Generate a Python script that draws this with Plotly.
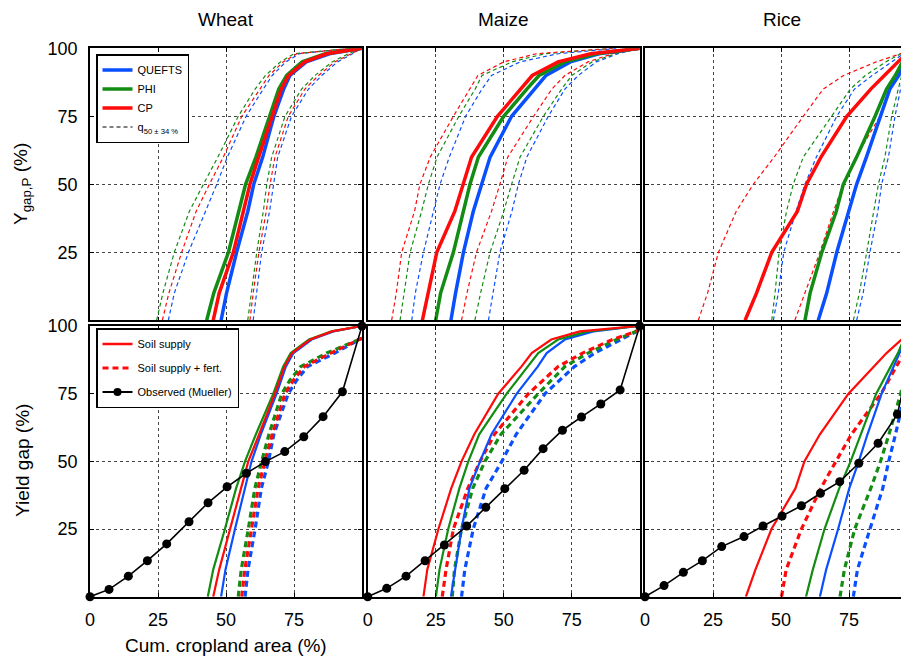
import plotly.graph_objects as go

CROPS = ["Wheat", "Maize", "Rice"]
MODELS = ["QUEFTS", "PHI", "CP"]
COLORS = {"QUEFTS": "#0a4fff", "PHI": "#138c13", "CP": "#ff0a0a"}

# ---------------- top row: Y_gap,P (%) levels and cumulative area (%) ----------
TOP_Y = [0, 10, 25, 40, 50, 60, 75, 85, 90, 95, 98, 100]

WHEAT_MED = {"QUEFTS": [48.2, 50.2, 53.9, 58.0, 60.2, 63.5, 67.6, 71.2, 73.5, 79.5, 88.0, 100],
             "PHI":    [42.9, 45.5, 50.9, 54.5, 57.2, 61.0, 66.0, 69.4, 72.3, 78.0, 86.5, 100],
             "CP":     [45.3, 47.5, 52.7, 56.5, 58.8, 62.0, 66.8, 70.3, 73.0, 79.0, 87.0, 100]}
WHEAT_LO = {"QUEFTS": [28.8, 31.0, 36.2, 42.5, 46.6, 50.5, 57.4, 63.7, 67.0, 72.0, 77.0, 96],
            "PHI":    [24.5, 26.8, 31.0, 36.5, 41.7, 47.0, 54.5, 60.7, 64.5, 70.0, 75.0, 96],
            "CP":     [26.6, 29.0, 33.7, 39.0, 43.9, 49.0, 55.8, 62.3, 65.8, 71.0, 76.0, 96]}
WHEAT_HI = {"QUEFTS": [60.0, 61.2, 63.1, 66.0, 67.4, 69.0, 74.1, 80.3, 85.2, 91.0, 96.5, 100],
            "PHI":    [58.0, 59.3, 61.3, 63.7, 65.0, 66.8, 71.7, 77.8, 82.7, 89.0, 95.0, 100],
            "CP":     [58.8, 60.0, 62.1, 64.8, 66.2, 68.0, 72.9, 79.0, 84.0, 90.0, 96.0, 100]}

MAIZE_MED = {"QUEFTS": [30.6, 32.3, 35.2, 38.8, 41.9, 45.0, 52.9, 61.5, 65.5, 74.5, 85.0, 100],
             "PHI":    [25.0, 26.8, 31.5, 35.0, 37.6, 40.7, 50.0, 58.5, 63.0, 72.5, 84.0, 100],
             "CP":     [20.1, 22.2, 25.4, 32.0, 35.2, 38.2, 47.7, 56.0, 60.5, 70.0, 82.0, 100]}
MAIZE_LO = {"QUEFTS": [16.2, 17.5, 20.5, 24.0, 26.6, 30.0, 36.0, 42.0, 45.5, 56.0, 70.0, 92],
            "PHI":    [11.9, 13.3, 15.6, 19.8, 22.3, 25.5, 33.5, 39.5, 42.0, 53.0, 65.0, 90],
            "CP":     [8.8, 10.5, 12.5, 17.2, 19.2, 23.0, 31.5, 37.5, 40.5, 50.0, 62.0, 90]}
MAIZE_HI = {"QUEFTS": [44.4, 46.0, 48.6, 53.0, 55.4, 58.5, 66.4, 72.5, 77.4, 84.0, 92.0, 100],
            "PHI":    [39.4, 41.5, 45.0, 50.0, 52.9, 56.0, 64.6, 71.3, 75.0, 82.5, 91.0, 100],
            "CP":     [34.5, 36.5, 40.0, 45.5, 48.6, 51.5, 61.0, 67.7, 72.5, 81.0, 90.0, 100]}

RICE_MED = {"QUEFTS": [63.7, 66.8, 70.5, 74.7, 77.8, 81.4, 86.4, 90.0, 93.3, 95.5, 96.6, 100],
            "PHI":    [58.8, 60.7, 65.0, 70.3, 72.9, 77.8, 84.6, 88.8, 92.0, 94.8, 96.3, 100],
            "CP":     [36.8, 41.0, 46.6, 56.0, 59.4, 64.7, 74.2, 83.0, 88.0, 93.0, 96.0, 100]}
RICE_LO = {"QUEFTS": [47.2, 49.0, 51.0, 55.5, 58.8, 63.0, 70.5, 77.0, 83.5, 90.5, 95.0, 100],
           "PHI":    [46.6, 47.8, 49.3, 52.0, 54.5, 58.2, 68.6, 75.5, 81.0, 88.5, 94.0, 100],
           "CP":     [19.6, 23.0, 27.0, 33.5, 39.8, 47.5, 58.2, 65.5, 73.0, 85.0, 94.0, 100]}
RICE_HI = {"QUEFTS": [77.8, 80.2, 82.7, 85.6, 87.0, 89.5, 91.9, 93.8, 95.0, 96.4, 97.3, 100],
           "PHI":    [76.6, 78.8, 81.5, 84.0, 85.8, 88.2, 90.7, 93.1, 94.4, 96.0, 97.0, 100],
           "CP":     [55.1, 58.8, 64.3, 69.3, 72.9, 77.5, 86.4, 90.0, 92.8, 95.5, 97.0, 100]}

# ---------------- bottom row: yield gap (%) ----------------
WHEAT_SOIL_Y = [0, 10, 25, 40, 50, 60, 75, 85, 90, 95, 98, 100]
WHEAT_SOIL = {"QUEFTS": [48.2, 49.8, 53.3, 56.8, 59.4, 62.8, 68.6, 72.0, 74.8, 81.5, 89.5, 100],
              "PHI":    [43.3, 45.3, 49.6, 53.7, 57.0, 61.0, 67.4, 71.0, 73.8, 80.5, 88.8, 100],
              "CP":     [45.3, 47.5, 51.5, 55.6, 58.2, 62.2, 68.0, 71.5, 74.3, 81.0, 89.0, 100]}
WHEAT_FERT_Y = [0, 10, 25, 40, 50, 60, 75, 80, 85, 90, 95.5]
WHEAT_FERT = {"QUEFTS": [57.0, 58.1, 60.7, 63.0, 65.6, 67.6, 72.9, 76.0, 80.0, 90.0, 100],
              "PHI":    [54.5, 55.6, 58.2, 60.6, 63.1, 65.8, 70.5, 73.5, 77.5, 87.0, 100],
              "CP":     [55.8, 56.9, 59.4, 61.8, 64.3, 67.0, 71.7, 74.8, 78.8, 88.5, 100]}

MAIZE_SOIL_Y = [0, 10, 25, 40, 50, 60, 75, 85, 90, 95, 98, 100]
MAIZE_SOIL = {"QUEFTS": [30.6, 32.1, 34.5, 37.4, 41.3, 45.5, 54.8, 62.5, 65.8, 72.5, 83.0, 99.5],
              "PHI":    [25.1, 26.4, 29.6, 33.7, 37.0, 41.0, 51.1, 59.0, 62.7, 70.0, 81.0, 99.5],
              "CP":     [20.5, 21.9, 26.0, 30.7, 34.5, 39.2, 48.0, 56.5, 60.3, 67.5, 78.0, 99.5]}
MAIZE_FERT_Y = [0, 10, 25, 40, 50, 60, 75, 85, 90, 95, 98.5]
MAIZE_FERT = {"QUEFTS": [34.5, 35.7, 38.8, 43.5, 49.3, 54.6, 65.2, 76.0, 83.5, 93.0, 99.9],
              "PHI":    [31.1, 31.9, 34.5, 38.6, 43.1, 49.0, 62.7, 72.5, 81.0, 91.5, 99.9],
              "CP":     [27.4, 28.8, 31.5, 36.8, 41.3, 46.6, 59.1, 70.0, 79.0, 90.0, 99.9]}

RICE_SOIL_Y = [0, 10, 25, 40, 50, 60, 75, 85, 90, 95, 100]
RICE_SOIL = {"QUEFTS": [64.3, 66.6, 71.0, 75.1, 78.6, 81.8, 87.0, 91.5, 93.8, 95.8, 99.2],
             "PHI":    [59.2, 61.7, 66.0, 71.4, 75.6, 79.3, 85.0, 90.3, 93.0, 95.1, 99.0],
             "CP":     [37.1, 40.6, 46.5, 55.3, 58.6, 64.3, 74.8, 84.2, 88.8, 94.3, 99.0]}
RICE_FERT_Y = [0, 10, 25, 40, 50, 60, 75, 85, 90, 100]
RICE_FERT = {"QUEFTS": [76.6, 78.1, 82.7, 87.4, 89.6, 92.1, 95.5, 97.0, 98.0, 100],
             "PHI":    [71.7, 73.3, 77.1, 83.0, 86.6, 89.7, 94.0, 96.2, 97.5, 100],
             "CP":     [50.2, 51.9, 57.5, 64.6, 70.2, 75.9, 86.8, 92.3, 95.2, 100]}

# observed (Mueller)
OBS_X = [0, 7.0, 14.1, 21.1, 28.2, 36.4, 43.4, 50.4, 57.5, 64.5, 71.6, 78.6, 85.7, 92.8, 100]
OBS_WHEAT = [0, 2.7, 7.6, 13.3, 19.5, 27.7, 34.7, 40.6, 45.6, 49.9, 53.6, 59.1, 66.5, 75.7, 100]
OBS_MAIZE = [0, 3.1, 7.6, 13.3, 19.1, 26.1, 33.0, 39.9, 46.7, 54.7, 61.5, 66.4, 71.2, 76.4, 100]
OBS_RICE = [0, 4.1, 9.0, 13.3, 18.5, 22.2, 26.1, 29.8, 33.6, 38.2, 42.5, 49.3, 56.7, 67.4, 100]

X_TICKS = [0, 25, 50, 75]
Y_TICKS = [25, 50, 75, 100]

FONT = "Liberation Sans, Arial, sans-serif"
# the page has an 8 px body margin, so the figure is sized to fit the 909x658 window
OFF = 8
FW, FH = 909 - OFF, 658 - OFF


def px(sx):
    return (sx - OFF) / FW


def py(sy):
    return 1 - (sy - OFF) / FH


TOP = [(WHEAT_MED, WHEAT_LO, WHEAT_HI), (MAIZE_MED, MAIZE_LO, MAIZE_HI), (RICE_MED, RICE_LO, RICE_HI)]
BOT = [(WHEAT_SOIL_Y, WHEAT_SOIL, WHEAT_FERT_Y, WHEAT_FERT, OBS_WHEAT),
       (MAIZE_SOIL_Y, MAIZE_SOIL, MAIZE_FERT_Y, MAIZE_FERT, OBS_MAIZE),
       (RICE_SOIL_Y, RICE_SOIL, RICE_FERT_Y, RICE_FERT, OBS_RICE)]

fig = go.Figure()

for c in range(3):
    xa, ya = ("x" if c == 0 else f"x{c+1}"), ("y" if c == 0 else f"y{c+1}")
    med, lo, hi = TOP[c]
    for m in MODELS:
        for band in (lo, hi):
            fig.add_trace(go.Scatter(x=band[m], y=TOP_Y, xaxis=xa, yaxis=ya, mode="lines",
                                     line=dict(color=COLORS[m], width=1.2, dash="4px,3px"),
                                     showlegend=False, hoverinfo="skip"))
    for m in MODELS:
        fig.add_trace(go.Scatter(x=med[m], y=TOP_Y, xaxis=xa, yaxis=ya, mode="lines",
                                 line=dict(color=COLORS[m], width=3.5),
                                 showlegend=False, hoverinfo="skip"))

for c in range(3):
    xa, ya = f"x{c+4}", f"y{c+4}"
    sy, soil, fy, fert, obs = BOT[c]
    for m in MODELS:
        fig.add_trace(go.Scatter(x=fert[m], y=fy, xaxis=xa, yaxis=ya, mode="lines",
                                 line=dict(color=COLORS[m], width=3.2, dash="6px,4px"),
                                 showlegend=False, hoverinfo="skip"))
    for m in MODELS:
        fig.add_trace(go.Scatter(x=soil[m], y=sy, xaxis=xa, yaxis=ya, mode="lines",
                                 line=dict(color=COLORS[m], width=2.2),
                                 showlegend=False, hoverinfo="skip"))
    fig.add_trace(go.Scatter(x=OBS_X, y=obs, xaxis=xa, yaxis=ya, mode="lines+markers",
                             line=dict(color="black", width=1.6),
                             marker=dict(color="black", size=9),
                             cliponaxis=False, showlegend=False, hoverinfo="skip"))

# legend entries
for m in MODELS:
    fig.add_trace(go.Scatter(x=[None], y=[None], mode="lines", name=m,
                             line=dict(color=COLORS[m], width=3.5), legend="legend"))
fig.add_trace(go.Scatter(x=[None], y=[None], mode="lines", name="q<sub>50 ± 34 %</sub>",
                         line=dict(color="black", width=1.2, dash="4px,3px"), legend="legend"))
fig.add_trace(go.Scatter(x=[None], y=[None], mode="lines", name="Soil supply", legendgroup="a",
                         line=dict(color=COLORS["CP"], width=2.5), legend="legend2"))
fig.add_trace(go.Scatter(x=[None], y=[None], mode="lines", name="Soil supply + fert.", legendgroup="b",
                         line=dict(color=COLORS["CP"], width=3, dash="6px,4px"), legend="legend2"))
fig.add_trace(go.Scatter(x=[None], y=[None], mode="lines+markers", name="Observed (Mueller)",
                         legendgroup="c", line=dict(color="black", width=2),
                         marker=dict(color="black", size=8), legend="legend2"))

XDOM = [[px(90), px(362)], [px(367.7), px(639.7)], [px(645), 1.0]]
XRNG = [[0, 100], [0, 100], [0, (909 - 645) / 2.72]]
YDOM_TOP = [py(320.3), py(48.3)]
YDOM_BOT = [py(596.7), py(326)]


def axis(domain, rng, vals, labels, anchor, standoff):
    return dict(domain=domain, range=rng, anchor=anchor, tickvals=vals, showticklabels=labels,
                automargin=False,
                showline=True, linecolor="black", linewidth=1.5, mirror="ticks",
                ticks="inside", ticklen=4, tickcolor="black", tickwidth=1,
                showgrid=True, gridcolor="#444", griddash="dot", gridwidth=1,
                zeroline=False, fixedrange=True, ticklabelstandoff=standoff,
                tickfont=dict(family=FONT, size=18, color="black"))


layout = dict(width=FW, height=FH, margin=dict(l=0, r=0, t=0, b=0, autoexpand=False),
              paper_bgcolor="white", plot_bgcolor="white",
              font=dict(family=FONT, color="black"))
for c in range(3):
    top_x = "xaxis" if c == 0 else f"xaxis{c+1}"
    top_y = "yaxis" if c == 0 else f"yaxis{c+1}"
    xa_top = "x" if c == 0 else f"x{c+1}"
    ya_top = "y" if c == 0 else f"y{c+1}"
    layout[top_x] = axis(XDOM[c], XRNG[c], X_TICKS, False, ya_top, 6)
    layout[top_y] = axis(YDOM_TOP, [0, 100], Y_TICKS, c == 0, xa_top, 7)
    layout[f"xaxis{c+4}"] = axis(XDOM[c], XRNG[c], X_TICKS, True, f"y{c+4}", 6)
    layout[f"yaxis{c+4}"] = axis(YDOM_BOT, [0, 100], Y_TICKS, c == 0, f"x{c+4}", 7)

layout["legend"] = dict(x=px(96), y=py(54), xanchor="left", yanchor="top",
                        bgcolor="white", bordercolor="black", borderwidth=1.5,
                        font=dict(family=FONT, size=11, color="black"), tracegroupgap=0)
layout["legend2"] = dict(x=px(96), y=py(328), xanchor="left", yanchor="top",
                         bgcolor="white", bordercolor="black", borderwidth=1.5,
                         font=dict(family=FONT, size=11, color="black"), tracegroupgap=5)

TITLE_FONT = dict(family=FONT, size=19, color="black")
ann = []
for c, name in enumerate(CROPS):
    cx = [226, 503.7, 782][c]
    ann.append(dict(text=name, x=px(cx), y=py(20), xref="paper", yref="paper", showarrow=False,
                    xanchor="center", yanchor="middle", font=TITLE_FONT))
ann.append(dict(text="Y<sub>gap,P</sub> (%)", x=px(22), y=py(184), xref="paper", yref="paper",
                xanchor="center", yanchor="middle",
                textangle=-90, showarrow=False, font=TITLE_FONT))
ann.append(dict(text="Yield gap (%)", x=px(22), y=py(461), xref="paper", yref="paper",
                xanchor="center", yanchor="middle",
                textangle=-90, showarrow=False, font=TITLE_FONT))
ann.append(dict(text="Cum. cropland area (%)", x=px(226), y=py(645), xref="paper", yref="paper",
                xanchor="center", yanchor="middle", showarrow=False, font=TITLE_FONT))
layout["annotations"] = ann

fig.update_layout(**layout)
fig.write_html("out.html")
